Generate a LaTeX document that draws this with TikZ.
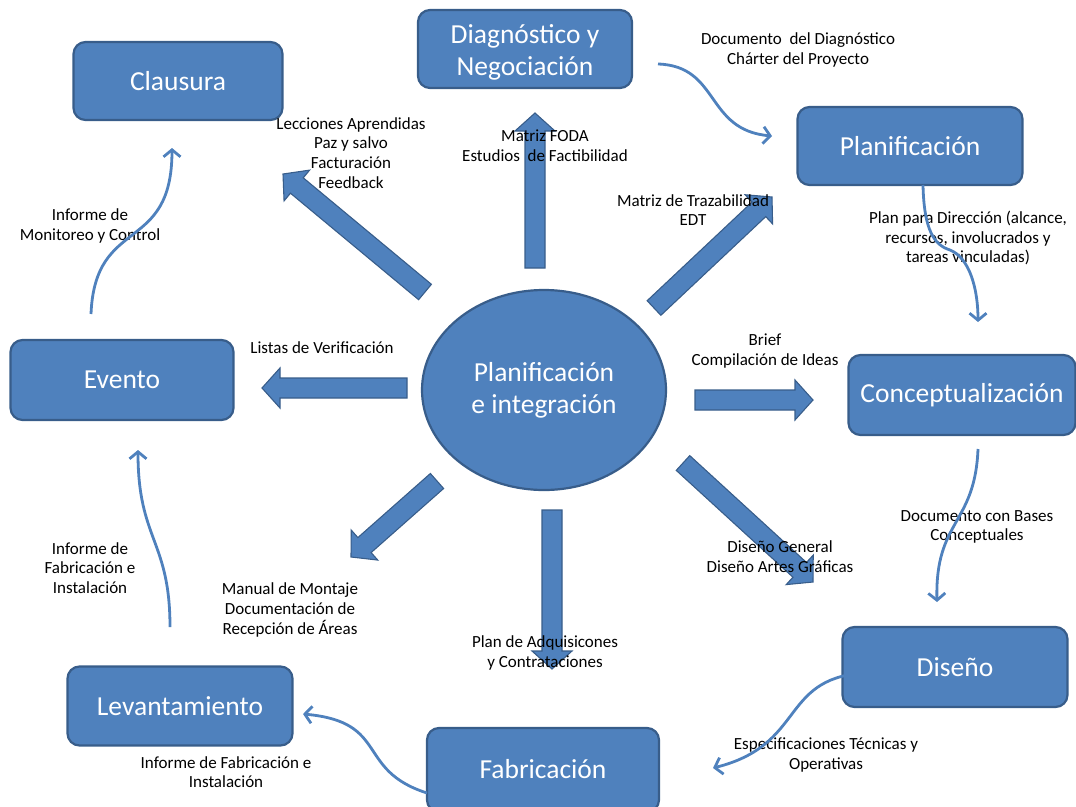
\documentclass[tikz,border=0pt]{standalone}
\usepackage{fontspec}
\setmainfont{Carlito}
\usetikzlibrary{arrows.meta,shapes.geometric,calc}
\definecolor{boxfill}{HTML}{4F81BD}
\definecolor{boxline}{HTML}{385D8A}

% broad block arrow from #1 (tail) to #2 (tip)
\newcommand\fatarrow[2]{%
  \path[fat] let \p1=(#1), \p2=(#2),
      \n1={atan2(\y2-\y1,\x2-\x1)},
      \n2={veclen(\x2-\x1,\y2-\y1)} in
    [shift={(\p1)}, rotate=\n1]
    (0pt,-10pt) -- (\n2*1pt-18pt,-10pt) -- (\n2*1pt-18pt,-20pt) --
    (\n2*1pt,0pt) -- (\n2*1pt-18pt,20pt) -- (\n2*1pt-18pt,10pt) --
    (0pt,10pt) -- cycle;}

\begin{document}
\begin{tikzpicture}[x=1pt,y=-1pt,
  stage/.style={draw=boxline, line width=2.2pt, fill=boxfill,
    rounded corners=12pt, text=white, align=center, inner sep=0pt,
    font=\fontsize{27.5}{32}\selectfont},
  stagetext/.style={text=white, align=center, inner sep=0pt,
    font=\fontsize{27.5}{32}\selectfont},
  hub/.style={ellipse, draw=boxline, line width=2.2pt, fill=boxfill,
    text=white, align=center, inner sep=0pt,
    minimum width=244pt, minimum height=200pt,
    font=\fontsize{27.5}{32}\selectfont},
  lbl/.style={font=\fontsize{17}{19.7}\selectfont, align=center, text=black, inner sep=0pt},
  flow/.style={draw=boxfill, line width=2.8pt,
    -{Straight Barb[length=7pt,width=17pt]}},
  fat/.style={fill=boxfill, draw=boxline, line width=1.1pt, line join=miter}
]
\useasboundingbox (0,0) rectangle (1076,806);

% stages
\node[stage, minimum width=209pt, minimum height=78pt] (clau) at (178,81) {Clausura};
\node[stage, minimum width=214pt, minimum height=78pt] (diag) at (525,49) {};
\node[stagetext] (diagtext) at (525,52) {Diagnóstico y\\Negociación};
\node[stage, minimum width=225pt, minimum height=78pt] (plan) at (910,146) {Planificación};
\node[stage, minimum width=227pt, minimum height=80pt] (conc) at (962,395) {Conceptualización};
\node[stage, minimum width=225pt, minimum height=80pt] (dise) at (955,667) {Diseño};
\node[stage, minimum width=232pt, minimum height=84pt] (fabr) at (543,770) {\raisebox{3pt}{Fabricación}};
\node[stage, minimum width=225pt, minimum height=79pt] (leva) at (180,706) {Levantamiento};
\node[stage, minimum width=223pt, minimum height=80pt] (even) at (122,380) {Evento};

% central hub
\node[hub] (hub) at (544,390) {Planificación\\e integración};

% block arrows leaving the hub
\coordinate (upT) at (535,268);  \coordinate (upH) at (535,113);
\coordinate (ulT) at (425,292);  \coordinate (ulH) at (283,174);
\coordinate (urT) at (654,308);  \coordinate (urH) at (772,197);
\coordinate (lfT) at (407,388);  \coordinate (lfH) at (262,388);
\coordinate (rtT) at (695,400);  \coordinate (rtH) at (813,400);
\coordinate (lrT) at (683,463);  \coordinate (lrH) at (813,582);
\coordinate (dnT) at (552,510);  \coordinate (dnH) at (552,669);
\coordinate (llT) at (437,481);  \coordinate (llH) at (351,557);
\fatarrow{upT}{upH}
\fatarrow{ulT}{ulH}
\fatarrow{urT}{urH}
\fatarrow{lfT}{lfH}
\fatarrow{rtT}{rtH}
\fatarrow{lrT}{lrH}
\fatarrow{dnT}{dnH}
\fatarrow{llT}{llH}

% deliverables
\node[lbl] (l1) at (798,50) {Documento\ \ del Diagnóstico\\Chárter del Proyecto};
\node[lbl] (l2) at (545,146) {Matriz FODA\\Estudios\ \ de Factibilidad};
\node[lbl] (l3) at (351,153) {Lecciones Aprendidas\\Paz y salvo\\Facturación\\Feedback};
\node[lbl] (l4) at (693,210) {Matriz de Trazabilidad\\EDT};
\node[lbl] (l5) at (968,238) {Plan para Dirección (alcance,\\recursos, involucrados y\\tareas vinculadas)};
\node[lbl] (l6) at (90,226) {Informe de\\Monitoreo y Control};
\node[lbl] (l7) at (322,348) {Listas de Verificación};
\node[lbl] (l8) at (765,351) {Brief\\Compilación de Ideas};
\node[lbl] (l9) at (977,527) {Documento con Bases\\Conceptuales};
\node[lbl] (l10) at (780,557) {Diseño General\\Diseño Artes Gráficas};
\node[lbl] (l11) at (90,568) {Informe de\\Fabricación e\\Instalación};
\node[lbl] (l12) at (290,610) {Manual de Montaje\\Documentación de\\Recepción de Áreas};
\node[lbl] (l13) at (545,653) {Plan de Adquisicones\\y Contrataciones};
\node[lbl] (l14) at (826,755) {Especificaciones Técnicas y\\Operativas};
\node[lbl] (l15) at (226,772) {Informe de Fabricación e\\Instalación};

% cycle connectors
\coordinate (c1a) at (658,64);   \coordinate (c1b) at (772,136);
\coordinate (c2a) at (923,185);  \coordinate (c2m) at (950,250); \coordinate (c2b) at (978,322);
\coordinate (c3a) at (978,449);  \coordinate (c3b) at (937,602);
\coordinate (c4a) at (862,673);  \coordinate (c4b) at (713,768);
\coordinate (c5a) at (427,793);  \coordinate (c5b) at (303,714);
\coordinate (c6a) at (170,627);  \coordinate (c6b) at (138,450);
\coordinate (c7a) at (91,314);   \coordinate (c7b) at (172,148);

\draw[flow] (c1a) .. controls (720,66) and (705,130) .. (c1b);
\draw[flow] (c2a) .. controls (924,230) and (934,245) .. (c2m)
                  .. controls (970,258) and (978,290) .. (c2b);
\draw[flow] (c3a) .. controls (975,525) and (935,520) .. (c3b);
\draw[flow] (c4a) .. controls (780,680) and (805,745) .. (c4b);
\draw[flow] (c5a) .. controls (355,770) and (390,722) .. (c5b);
\draw[flow] (c6a) .. controls (170,540) and (138,540) .. (c6b);
\draw[flow] (c7a) .. controls (95,215) and (172,255) .. (c7b);
\end{tikzpicture}
\end{document}
